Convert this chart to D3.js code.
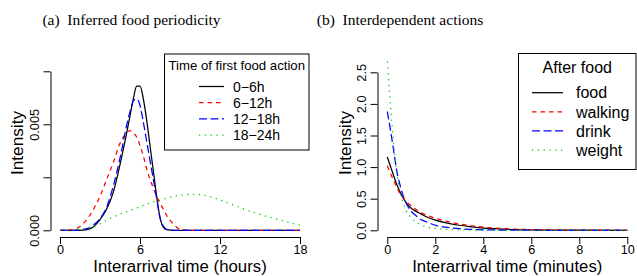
<!DOCTYPE html>
<html>
<head>
<meta charset="utf-8">
<script src="https://cdn.jsdelivr.net/npm/d3@7"></script>
<style>
  body { margin: 0; background: #fff; }
  svg { display: block; }
</style>
</head>
<body>
<div id="chart"></div>
<script>
// ---- data ----
const hours = [0, 1, 1.5, 2, 2.5, 3, 3.5, 4, 4.5, 5, 5.25, 5.5, 5.75, 6, 6.25, 6.5, 6.75, 7, 7.25, 7.5, 7.75, 8, 8.5, 9, 10, 11, 12, 13, 14, 15, 16, 17, 18];
const food0to6 = [0, 0, 0, 0.00003, 0.00016, 0.0005, 0.001, 0.0018, 0.0031, 0.0046, 0.0054, 0.0062, 0.0068, 0.0068, 0.0062, 0.0052, 0.004, 0.0028, 0.0016, 0.0006, 0.00015, 0.00003, 0, 0, 0, 0, 0, 0, 0, 0, 0, 0, 0];
const food6to12 = [0, 0.00004, 0.00018, 0.0005, 0.00098, 0.0016, 0.0024, 0.0032, 0.0041, 0.0046, 0.0047, 0.0046, 0.0044, 0.004, 0.0035, 0.0029, 0.0024, 0.002, 0.0016, 0.0013, 0.001, 0.0007, 0.0003, 0.00005, 0, 0, 0, 0, 0, 0, 0, 0, 0];
const food12to18 = [0, 0, 0.00002, 0.00008, 0.00025, 0.00055, 0.0011, 0.0021, 0.0034, 0.00495, 0.0056, 0.0061, 0.0062, 0.0059, 0.0051, 0.0042, 0.0033, 0.0024, 0.0015, 0.0006, 0.0002, 0.00005, 0, 0, 0, 0, 0, 0, 0, 0, 0, 0, 0];
const food18to24 = [0, 0.00002, 0.00005, 0.0001, 0.00017, 0.0003, 0.00048, 0.00063, 0.00076, 0.00088, 0.00094, 0.001, 0.00105, 0.0011, 0.00117, 0.00123, 0.00129, 0.00134, 0.00139, 0.00143, 0.00148, 0.00152, 0.0016, 0.00166, 0.0017, 0.00163, 0.00143, 0.0012, 0.00095, 0.00075, 0.00057, 0.0004, 0.00024];
const periodLabels = ["0\u22126h", "6\u221212h", "12\u221218h", "18\u221224h"];
const hourTicks = [0, 6, 12, 18];
const periodYTicks = [0, 0.0025, 0.005, 0.0075];
const periodYTickLabels = ["0.000", "", "0.005", ""];

const minutes = [0, 0.1, 0.25, 0.4, 0.5, 0.65, 0.8, 1, 1.2, 1.4, 1.65, 2, 2.5, 3, 3.5, 4, 4.5, 5, 6, 7, 8, 10];
const afterFood = [1.16, 1.05, 0.88, 0.72, 0.63, 0.52, 0.43, 0.35, 0.3, 0.26, 0.21, 0.16, 0.115, 0.08, 0.056, 0.036, 0.025, 0.015, 0.006, 0.003, 0.001, 0];
const afterWalking = [1.02, 0.93, 0.8, 0.68, 0.6, 0.52, 0.45, 0.39, 0.33, 0.28, 0.24, 0.19, 0.14, 0.1, 0.072, 0.05, 0.035, 0.024, 0.012, 0.006, 0.003, 0.001];
const afterDrink = [1.88, 1.66, 1.3, 0.93, 0.76, 0.56, 0.42, 0.3, 0.23, 0.17, 0.13, 0.08, 0.045, 0.025, 0.015, 0.008, 0.005, 0.003, 0.001, 0, 0, 0];
const afterWeight = [2.67, 2.15, 1.43, 0.9, 0.66, 0.45, 0.3, 0.2, 0.13, 0.09, 0.05, 0.03, 0.015, 0.007, 0.004, 0.002, 0.001, 0, 0, 0, 0, 0];
const actionLabels = ["food", "walking", "drink", "weight"];
const minuteTicks = [0, 2, 4, 6, 8, 10];
const actionYTicks = [0, 0.5, 1, 1.5, 2, 2.5];
const actionYTickLabels = ["0.0", "0.5", "1.0", "1.5", "2.0", "2.5"];

// ---- styling ----
const W = 637, H = 276;
const SANS = '"Liberation Sans", Arial, sans-serif';
const SERIF = '"Liberation Serif", "Times New Roman", serif';
const lineStyles = [
    { color: "#000000", dash: null },
    { color: "#FF0000", dash: "4.5,4" },
    { color: "#0000FF", dash: "8,3.5" },
    { color: "#00CD00", dash: "1.3,4.5" }
];

const svg = d3.select("#chart").append("svg")
    .attr("width", W)
    .attr("height", H)
    .style("background", "#fff");

function drawPanel(cfg) {
    const x = d3.scaleLinear().domain(cfg.xDomain).range(cfg.xRange);
    const y = d3.scaleLinear().domain(cfg.yDomain).range(cfg.yRange);

    // x axis
    svg.append("g")
        .attr("transform", `translate(0,${cfg.xAxisY})`)
        .call(d3.axisBottom(x).tickValues(cfg.xTicks).tickSize(7).tickSizeOuter(0).tickFormat(d3.format("d")))
        .call(g => g.selectAll(".domain").attr("stroke", "#000").attr("stroke-width", 1))
        .call(g => g.selectAll(".tick line").attr("stroke", "#000"))
        .call(g => g.selectAll(".tick text")
            .attr("y", 8.5)
            .style("font-family", SANS)
            .style("font-size", "12.6px")
            .attr("fill", "#000"));

    // y axis
    svg.append("g")
        .attr("transform", `translate(${cfg.yAxisX},0)`)
        .call(d3.axisLeft(y).tickValues(cfg.yTicks).tickSize(7).tickSizeOuter(0).tickFormat((d, i) => cfg.yTickLabels[i]))
        .call(g => g.selectAll(".domain").attr("stroke", "#000").attr("stroke-width", 1))
        .call(g => g.selectAll(".tick line").attr("stroke", "#000"))
        .call(g => g.selectAll(".tick text")
            .attr("x", 0)
            .attr("dy", "0.36em")
            .attr("transform", "translate(-16,0) rotate(-90)")
            .attr("text-anchor", "middle")
            .style("font-family", SANS)
            .style("font-size", "12.8px")
            .attr("fill", "#000"));

    // axis titles
    svg.append("text")
        .attr("x", (cfg.xRange[0] + cfg.xRange[1]) / 2)
        .attr("y", 272.3)
        .attr("text-anchor", "middle")
        .style("font-family", SANS)
        .style("font-size", "16.8px")
        .text(cfg.xTitle);

    svg.append("text")
        .attr("transform", `translate(${cfg.yTitleX},143) rotate(-90)`)
        .attr("dy", "0.36em")
        .attr("text-anchor", "middle")
        .style("font-family", SANS)
        .style("font-size", "17.2px")
        .text("Intensity");

    // curves
    const line = d3.line()
        .x((d, i) => x(cfg.xs[i]))
        .y(d => y(d))
        .curve(d3.curveMonotoneX);

    svg.selectAll(null)
        .data(cfg.series)
        .join("path")
        .attr("d", d => line(d))
        .attr("fill", "none")
        .attr("stroke", (d, i) => lineStyles[i].color)
        .attr("stroke-width", 1.25)
        .attr("stroke-dasharray", (d, i) => lineStyles[i].dash);

    // legend
    const L = cfg.legend;
    svg.append("rect")
        .attr("x", L.x0).attr("y", L.y0)
        .attr("width", L.x1 - L.x0).attr("height", L.y1 - L.y0)
        .attr("fill", "#fff").attr("stroke", "#000").attr("stroke-width", 1);

    svg.append("text")
        .attr("x", (L.x0 + L.x1) / 2)
        .attr("y", L.titleY)
        .attr("dy", "0.36em")
        .attr("text-anchor", "middle")
        .style("font-family", SANS)
        .style("font-size", L.titleSize + "px")
        .text(L.title);

    const items = svg.selectAll(null)
        .data(cfg.labels)
        .join("g")
        .attr("transform", (d, i) => `translate(0,${L.rowY + i * L.rowStep})`);

    items.append("line")
        .attr("x1", L.lineX0).attr("x2", L.lineX1)
        .attr("stroke", (d, i) => lineStyles[i].color)
        .attr("stroke-width", 1.25)
        .attr("stroke-dasharray", (d, i) => lineStyles[i].dash);

    items.append("text")
        .attr("x", L.textX)
        .attr("dy", "0.36em")
        .style("font-family", SANS)
        .style("font-size", L.fontSize + "px")
        .text(d => d);
}

drawPanel({
    xs: hours,
    series: [food0to6, food6to12, food12to18, food18to24],
    labels: periodLabels,
    xDomain: [0, 18], xRange: [60, 300],
    yDomain: [0, 0.0075], yRange: [230.3, 71.3],
    xTicks: hourTicks, yTicks: periodYTicks, yTickLabels: periodYTickLabels,
    xAxisY: 237, yAxisX: 50.5, yTitleX: 17,
    xTitle: "Interarrival time (hours)",
    legend: {
        x0: 164.5, x1: 309, y0: 54, y1: 150,
        title: "Time of first food action", titleY: 65.5,
        rowY: 86.5, rowStep: 16.2,
        lineX0: 199, lineX1: 224, textX: 233, fontSize: 14, titleSize: 13.2
    }
});

drawPanel({
    xs: minutes,
    series: [afterFood, afterWalking, afterDrink, afterWeight],
    labels: actionLabels,
    xDomain: [0, 10], xRange: [387.3, 627.3],
    yDomain: [0, 2.5], yRange: [230.3, 72.3],
    xTicks: minuteTicks, yTicks: actionYTicks, yTickLabels: actionYTickLabels,
    xAxisY: 237, yAxisX: 377.5, yTitleX: 345,
    xTitle: "Interarrival time (minutes)",
    legend: {
        x0: 518.5, x1: 636, y0: 53.5, y1: 169.5,
        title: "After food", titleY: 67.5,
        rowY: 92.7, rowStep: 19.1,
        lineX0: 532, lineX1: 563, textX: 576, fontSize: 16, titleSize: 16
    }
});

// sub-captions
svg.append("text")
    .attr("x", 131.5).attr("y", 20)
    .attr("dy", "0.35em")
    .attr("text-anchor", "middle")
    .style("font-family", SERIF)
    .style("font-size", "15.5px")
    .text("(a)\u2002Inferred food periodicity");

svg.append("text")
    .attr("x", 400).attr("y", 20)
    .attr("dy", "0.35em")
    .attr("text-anchor", "middle")
    .style("font-family", SERIF)
    .style("font-size", "15.5px")
    .text("(b)\u2002Interdependent actions");
</script>
</body>
</html>
